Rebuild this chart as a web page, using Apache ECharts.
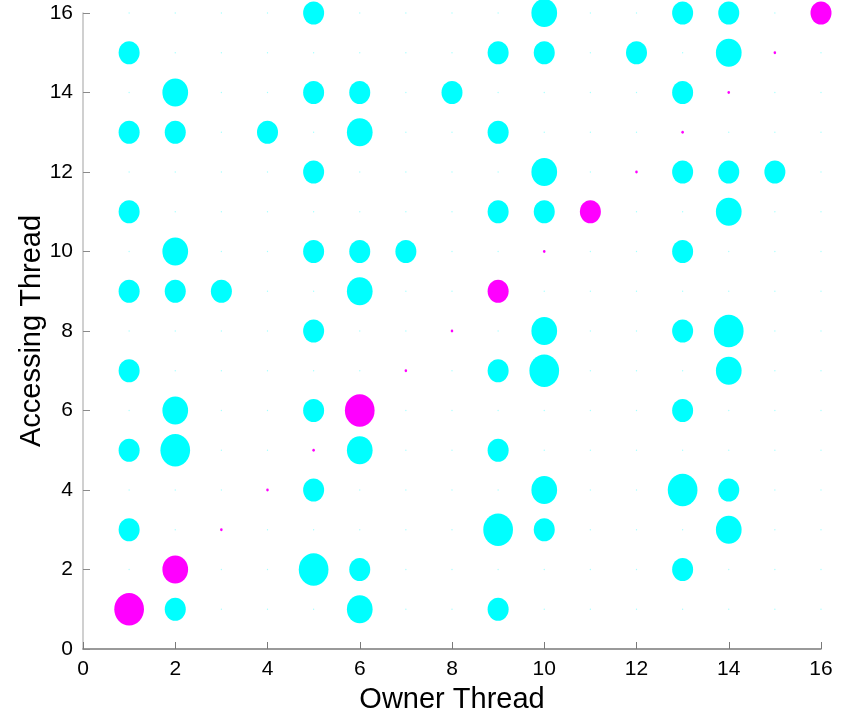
<!DOCTYPE html>
<html>
<head>
<meta charset="utf-8">
<script src="https://cdn.jsdelivr.net/npm/echarts@6/dist/echarts.min.js"></script>
<style>html,body{margin:0;padding:0;background:#fff}#c{width:850px;height:715px}</style>
</head>
<body>
<div id="c"></div>
<script>
// Thread ids (owner on x, accessing on y)
var threads = [1,2,3,4,5,6,7,8,9,10,11,12,13,14,15,16];
var xTicks = [0,2,4,6,8,10,12,14,16];
var yTicks = [0,2,4,6,8,10,12,14,16];
var xLabel = 'Owner Thread';
var yLabel = 'Accessing Thread';
// access counts: row = accessing thread 1..16, column = owner thread 1..16
var row1  = [4,2,0,0,0,3,0,0,2,0,0,0,0,0,0,0];
var row2  = [0,3,0,0,4,2,0,0,0,0,0,0,2,0,0,0];
var row3  = [2,0,0.03,0,0,0,0,0,4,2,0,0,0,3,0,0];
var row4  = [0,0,0,0.03,2,0,0,0,0,3,0,0,4,2,0,0];
var row5  = [2,4,0,0,0.03,3,0,0,2,0,0,0,0,0,0,0];
var row6  = [0,3,0,0,2,4,0,0,0,0,0,0,2,0,0,0];
var row7  = [2,0,0,0,0,0,0.03,0,2,4,0,0,0,3,0,0];
var row8  = [0,0,0,0,2,0,0,0.03,0,3,0,0,2,4,0,0];
var row9  = [2,2,2,0,0,3,0,0,2,0,0,0,0,0,0,0];
var row10 = [0,3,0,0,2,2,2,0,0,0.03,0,0,2,0,0,0];
var row11 = [2,0,0,0,0,0,0,0,2,2,2,0,0,3,0,0];
var row12 = [0,0,0,0,2,0,0,0,0,3,0,0.03,2,2,2,0];
var row13 = [2,2,0,2,0,3,0,0,2,0,0,0,0.03,0,0,0];
var row14 = [0,3,0,0,2,2,0,2,0,0,0,0,2,0.03,0,0];
var row15 = [2,0,0,0,0,0,0,0,2,2,0,2,0,3,0.03,0];
var row16 = [0,0,0,0,2,0,0,0,0,3,0,0,2,2,0,2];
var counts = [row1,row2,row3,row4,row5,row6,row7,row8,row9,row10,row11,row12,row13,row14,row15,row16];

var zeros = [], cross = [], self = [];
counts.forEach(function(row, i){
  row.forEach(function(v, j){
    var p = [threads[j], threads[i], v];
    if (v === 0) zeros.push(p);
    else if (i === j) self.push(p);
    else cross.push(p);
  });
});
function sz(d){ var k = Math.sqrt(d[2]/2); return [Math.max(2, 21*k), Math.max(2, 23*k)]; }

var chart = echarts.init(document.getElementById('c'), null, {renderer:'canvas'});
var axisFont = {fontFamily:'Liberation Sans, Arial, sans-serif', color:'#000'};
chart.setOption({
  animation:false,
  backgroundColor:'#fff',
  grid:{left:83, right:29, top:13, bottom:66, containLabel:false, outerBoundsMode:'none'},
  xAxis:{
    type:'value', min:0, max:16, interval:2,
    name:xLabel, nameLocation:'middle', nameGap:36, nameMoveOverlap:false,
    nameTextStyle:Object.assign({fontSize:29}, axisFont),
    axisLine:{lineStyle:{color:'#7a7a7a', width:1.5}},
    axisTick:{inside:true, length:7, lineStyle:{color:'#7a7a7a'}},
    axisLabel:Object.assign({fontSize:21, margin:10}, axisFont),
    splitLine:{show:false}
  },
  yAxis:{
    type:'value', min:0, max:16, interval:2,
    name:yLabel, nameLocation:'middle', nameGap:37, nameRotate:90, nameMoveOverlap:false,
    nameTextStyle:Object.assign({fontSize:29}, axisFont),
    axisLine:{lineStyle:{color:'#c0c0c0', width:1.5}},
    axisTick:{inside:true, length:7, lineStyle:{color:'#8a8a8a'}},
    axisLabel:Object.assign({fontSize:21, margin:10}, axisFont),
    splitLine:{show:false}
  },
  series:[
    {type:'scatter', data:zeros, symbolSize:1.3, itemStyle:{color:'rgba(0,255,255,0.45)'}, silent:true},
    {type:'scatter', data:cross, symbolSize:sz, itemStyle:{color:'#00ffff', opacity:1}},
    {type:'scatter', data:self, symbolSize:sz, itemStyle:{color:'#ff00ff', opacity:1}}
  ]
});
</script>
</body>
</html>
